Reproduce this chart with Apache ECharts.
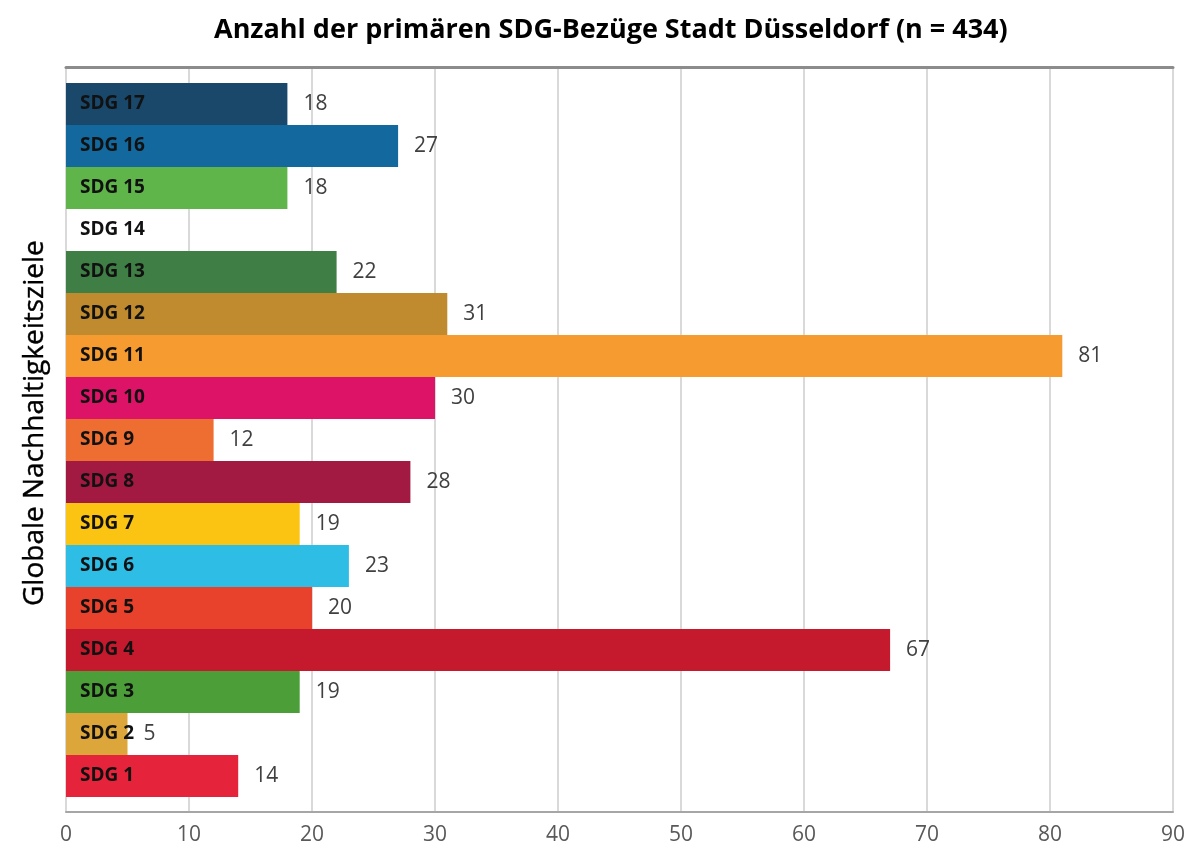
<!DOCTYPE html>
<html>
<head>
<meta charset="utf-8">
<script src="https://cdn.jsdelivr.net/npm/echarts@6/dist/echarts.min.js"></script>
<style>
html,body{margin:0;padding:0;background:#fff;}
#chart{width:1189px;height:853px;}
</style>
</head>
<body>
<div id="chart"></div>
<script>
// Data
const categories = ['SDG 1','SDG 2','SDG 3','SDG 4','SDG 5','SDG 6','SDG 7','SDG 8','SDG 9','SDG 10','SDG 11','SDG 12','SDG 13','SDG 14','SDG 15','SDG 16','SDG 17'];
const values = [14, 5, 19, 67, 20, 23, 19, 28, 12, 30, 81, 31, 22, 0, 18, 27, 18];
const barColors = ['#E5243B','#DDA63A','#4C9F38','#C5192D','#E8412C','#2EBDE5','#FBC412','#A21942','#EE6E32','#DD1367','#F59B2F','#BF8B2E','#3F7E44','#0A97D9','#5FB54A','#13699E','#19486A'];
const xTicks = [0, 90, 10]; // min, max, interval
const titleText = 'Anzahl der primären SDG-Bezüge Stadt Düsseldorf (n = 434)';
const yAxisTitle = 'Globale Nachhaltigkeitsziele';

const FONT = '"Open Sans", "Noto Sans", sans-serif';
const chart = echarts.init(document.getElementById('chart'), null, {renderer: 'canvas'});

const option = {
  backgroundColor: '#ffffff',
  animation: false,
  textStyle: {fontFamily: FONT},
  title: {
    text: titleText,
    left: 209,
    top: 12,
    textStyle: {fontFamily: FONT, fontSize: 27, fontWeight: 'bold', color: '#000'}
  },
  graphic: [{
    type: 'text',
    rotation: Math.PI / 2,
    x: 21, y: 606,
    style: {text: yAxisTitle, font: 'normal 28px ' + FONT, fill: '#000', stroke: '#000', lineWidth: 0.4}
  }],
  grid: [
    {left: 66, right: 16, top: 67, bottom: 41, containLabel: false},
    {left: 66, right: 16, top: 83, bottom: 56, containLabel: false}
  ],
  xAxis: [
    {
      gridIndex: 0, type: 'value', min: xTicks[0], max: xTicks[1], interval: xTicks[2],
      position: 'bottom',
      axisLine: {show: true, lineStyle: {color: '#a6a6a6', width: 2}},
      axisTick: {show: false},
      axisLabel: {fontSize: 21, color: '#595959', margin: 13, fontFamily: FONT},
      splitLine: {show: true, lineStyle: {color: '#d9d9d9', width: 2}}
    },
    {
      gridIndex: 0, type: 'value', min: xTicks[0], max: xTicks[1], interval: xTicks[2],
      position: 'top',
      axisLine: {show: true, lineStyle: {color: '#8c8c8c', width: 3}},
      axisTick: {show: false}, axisLabel: {show: false}, splitLine: {show: false}
    },
    {
      gridIndex: 1, type: 'value', min: xTicks[0], max: xTicks[1], interval: xTicks[2],
      show: false
    }
  ],
  yAxis: [
    {gridIndex: 0, type: 'value', show: false, min: 0, max: 1},
    {
      gridIndex: 1, type: 'category', data: categories, z: 10,
      axisLine: {show: false}, axisTick: {show: false},
      splitLine: {show: false},
      axisLabel: {inside: true, margin: 14, fontSize: 19, fontWeight: 'bold', color: '#111', fontFamily: FONT}
    }
  ],
  series: [{
    type: 'bar',
    xAxisIndex: 2, yAxisIndex: 1,
    barCategoryGap: '0%',
    data: values.map((v, i) => ({value: v, itemStyle: {color: barColors[i]}})),
    label: {
      show: true, position: 'right', distance: 16,
      fontSize: 21, color: '#404040', fontFamily: FONT,
      formatter: p => (p.value ? String(p.value) : '')
    }
  }]
};
chart.setOption(option);
</script>
</body>
</html>
